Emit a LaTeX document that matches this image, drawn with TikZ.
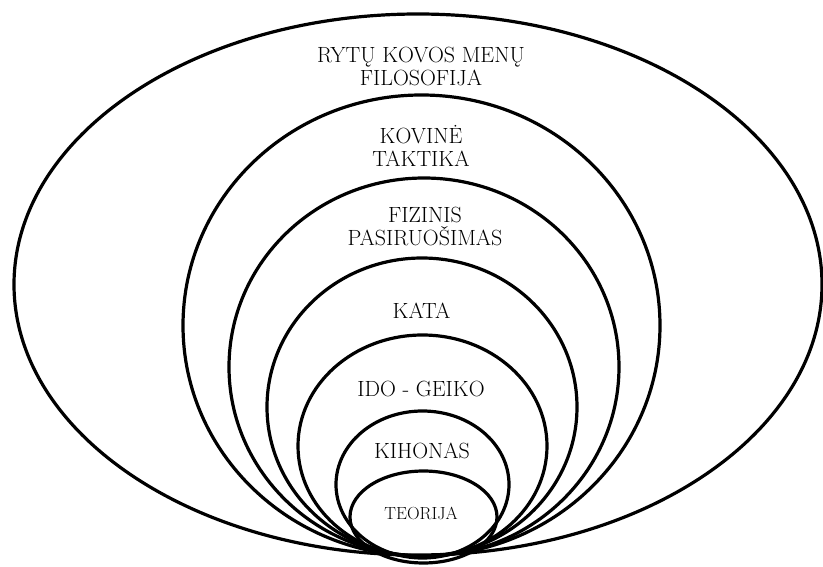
\documentclass[tikz,border=0pt]{standalone}
\usepackage{tikz}
\usetikzlibrary{positioning}

\begin{document}
\begin{tikzpicture}[x=1pt,y=1pt,
  ring/.style={line width=3.2pt},
  lbl/.style={inner sep=0pt,align=center,anchor=base,font=\fontsize{22}{23}\selectfont}]
\useasboundingbox (0,0) rectangle (823,566);
% nested rings, outer to inner
\draw[ring] (418,281.5) ellipse [x radius=404, y radius=270.5];
\draw[ring] (421.5,240.5) ellipse [x radius=238.5, y radius=230.5];
\draw[ring] (424,199) ellipse [x radius=195, y radius=189];
\draw[ring] (422,159) ellipse [x radius=155, y radius=149];
\draw[ring] (422.5,120) ellipse [x radius=124.5, y radius=111];
\draw[ring] (422.5,81.5) ellipse [x radius=86.5, y radius=73.5];
\draw[ring] (423.5,49) ellipse [x radius=73.5, y radius=46];
% labels (base = last line)
\node[lbl] (fil) at (421,480) {RYTŲ KOVOS MENŲ\\FILOSOFIJA};
\node[lbl] (tak) at (421,399) {KOVINĖ\\TAKTIKA};
\node[lbl] (fiz) at (425,320) {FIZINIS\\PASIRUOŠIMAS};
\node[lbl] (kata) at (421.5,247) {KATA};
\node[lbl] (ido) at (421,169) {IDO - GEIKO};
\node[lbl] (kih) at (422,108) {KIHONAS};
\node[lbl,font=\fontsize{17.5}{20}\selectfont] (teo) at (421,47) {TEORIJA};
\end{tikzpicture}
\end{document}
